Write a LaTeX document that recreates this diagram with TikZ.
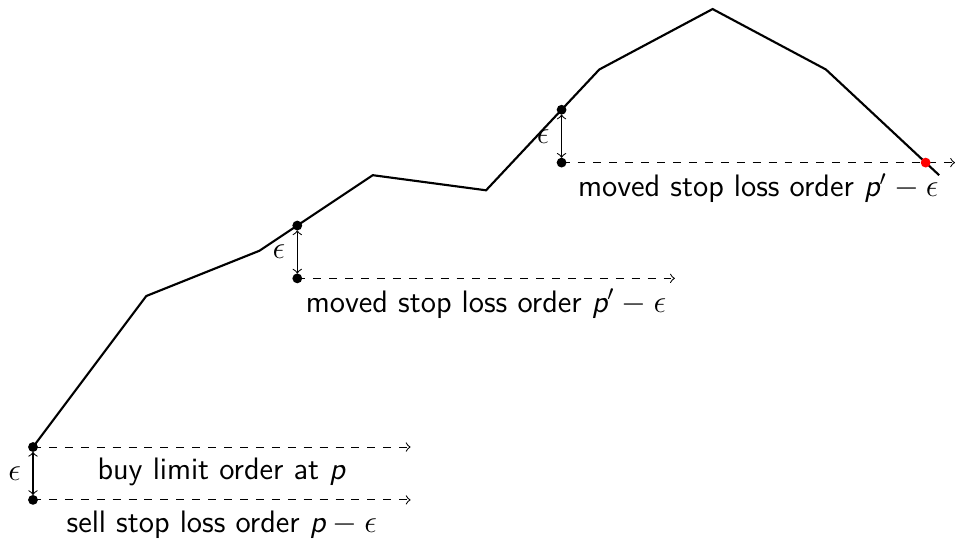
\documentclass[tikz,border=0pt]{standalone}
\usepackage{tikz}
\usetikzlibrary{calc, positioning, intersections}
\newcommand{\pvar}{\textsf{\itshape p}}

\begin{document}
\begin{tikzpicture}[
  price/.style={thick},
  order/.style={dashed, ->},
  gap/.style={<->, shorten <=1.8pt, shorten >=1.8pt},
  dot/.style={circle, fill=black, inner sep=0pt, minimum size=3.7pt},
  hit/.style={circle, fill=red, inner sep=0pt, minimum size=3.7pt},
  lbl/.style={font=\sffamily\fontsize{11.7}{14}\selectfont},
  eps/.style={font=\large, left=1pt}
]
\useasboundingbox (-0.437,-1.205) rectangle (12.21,5.92);

\coordinate (p0) at (0,0);
\coordinate (p1) at (1.5,2);
\coordinate (p2) at (3,2.6);
\coordinate (p4) at (4.5,3.6);
\coordinate (p5) at (6,3.4);
\coordinate (p7) at (7.5,5);
\coordinate (p8) at (9,5.8);
\coordinate (p9) at (10.5,5);
\coordinate (p10) at (12,3.6);
\coordinate (p3) at ($(p2)!1/3!(p4)$);
\coordinate (p6) at ($(p5)!2/3!(p7)$);

\draw[price, name path=curve] (p0) -- (p1) -- (p2) -- (p3) -- (p4) -- (p5) -- (p6) -- (p7) -- (p8) -- (p9) -- (p10);

\coordinate (s0) at ($(p0)+(0,-0.7)$);
\coordinate (s1) at ($(p3)+(0,-0.7)$);
\coordinate (s2) at ($(p6)+(0,-0.7)$);
\coordinate (e0) at (5,0);
\coordinate (f0) at (5,-0.7);
\coordinate (f1) at (8.5,0 |- s1);
\coordinate (f2) at (12.21,0 |- s2);

\draw[order] (p0) -- node[lbl, below=0.5pt] (buy) {buy limit order at \pvar} (e0);
\draw[order] (s0) -- node[lbl, below=0.5pt] (sell) {sell stop loss order $\pvar-\epsilon$} (f0);
\draw[order] (s1) -- node[lbl, below=0.5pt] (move1) {moved stop loss order $\pvar'-\epsilon$} (f1);
\draw[order, name path=stop] (s2) -- node[lbl, below=0.5pt] (move2) {moved stop loss order $\pvar'-\epsilon$} (f2);

\draw[gap] (p0) -- node[eps] {$\epsilon$} (s0);
\draw[gap] (p3) -- node[eps] {$\epsilon$} (s1);
\draw[gap] (p6) -- node[eps] {$\epsilon$} (s2);

\foreach \c in {p0, s0, p3, s1, p6, s2}
  \node[dot] at (\c) {};
\path[name intersections={of=curve and stop, by=x}];
\node[hit] (exit) at (x) {};
\end{tikzpicture}
\end{document}
